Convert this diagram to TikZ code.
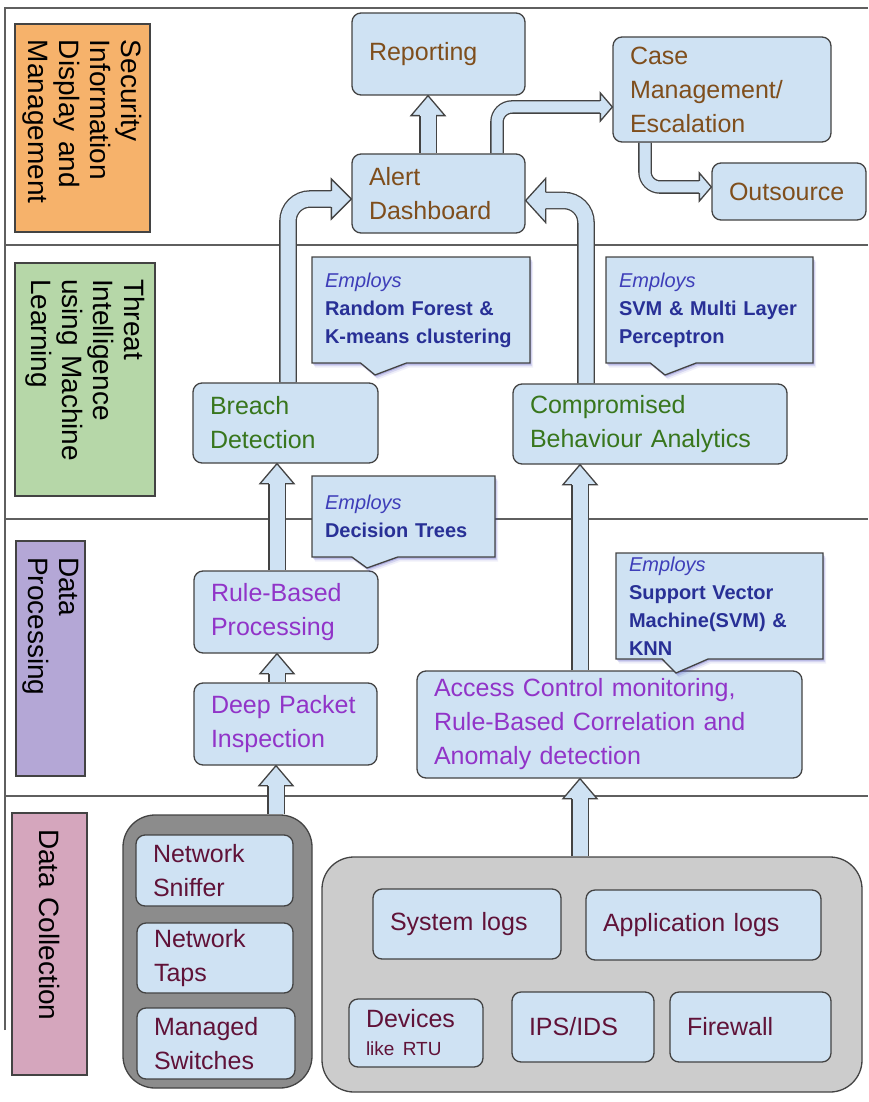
\documentclass[tikz,border=0pt]{standalone}
\usepackage{fontspec}
\setmainfont{Liberation Sans}
\usepackage{tikz}
\usetikzlibrary{shapes.callouts,shadows,backgrounds}

\definecolor{boxblue}{RGB}{207,226,243}
\definecolor{edge}{RGB}{67,67,67}
\definecolor{framegray}{RGB}{95,95,95}
\definecolor{siemorange}{RGB}{246,178,107}
\definecolor{mlgreen}{RGB}{182,215,168}
\definecolor{procpurple}{RGB}{180,167,214}
\definecolor{collpink}{RGB}{213,166,189}
\definecolor{darkgrp}{RGB}{140,140,140}
\definecolor{lightgrp}{RGB}{204,204,204}
\definecolor{txtbrown}{RGB}{127,78,28}
\definecolor{txtgreen}{RGB}{56,118,29}
\definecolor{txtpurple}{RGB}{145,52,200}
\definecolor{txtmaroon}{RGB}{96,18,56}
\definecolor{empblue}{RGB}{62,62,185}
\definecolor{algblue}{RGB}{40,48,150}

\newcommand{\boxfont}{\fontsize{25}{34}\selectfont}
\newcommand{\notefont}{\fontsize{20}{28}\selectfont}
\newcommand{\bandfont}{\fontsize{28}{31}\selectfont}
\newcommand{\employs}{{\mdseries\itshape\color{empblue}Employs}}

\tikzstyle{band}=[rectangle,draw=edge,line width=1.2pt,rotate=-90,
                  align=left,inner xsep=16pt,inner ysep=2pt,font=\bandfont]
\tikzstyle{box}=[rectangle,rounded corners=9pt,draw=edge,line width=1.3pt,
                 fill=boxblue,align=left,inner xsep=17pt,inner ysep=2pt,
                 font=\boxfont]
\tikzstyle{group}=[rectangle,rounded corners=32pt,draw=edge,line width=1.3pt]
\tikzstyle{note}=[rectangle callout,draw=edge,line width=1.3pt,fill=boxblue,
                  align=left,inner xsep=13pt,inner ysep=2pt,
                  font=\notefont\bfseries,text=algblue,
                  callout pointer width=46pt,
                  drop shadow={shadow xshift=3pt,shadow yshift=-4.5pt,
                               fill=empblue,opacity=0.08},
                  drop shadow={shadow xshift=2pt,shadow yshift=-3pt,
                               fill=empblue,opacity=0.15},
                  drop shadow={shadow xshift=1pt,shadow yshift=-1.5pt,
                               fill=empblue,opacity=0.25}]
\tikzstyle{shaft}=[draw=edge,line width=1.3pt,double=boxblue,
                   double distance=15pt,rounded corners=22pt]
\tikzset{
  wh/.style 2 args={minimum width=#1pt,minimum height=#2pt,text width=#1pt-34pt},
  nwh/.style 2 args={minimum width=#1pt,minimum height=#2pt,text width=#1pt-26pt},
  bwh/.style 2 args={minimum width=#1pt,minimum height=#2pt,text width=#1pt-32pt},
  pics/bhead/.style n args={3}{code={
    \fill[boxblue] (-#3-0.5,-#2+0.7) -- (-#3,-#2+0.7) -- (-#3,-#1) -- (0,0)
      -- (-#3,#1) -- (-#3,#2-0.7) -- (-#3-0.5,#2-0.7) -- cycle;
    \draw[edge,line width=1.3pt] (-#3,-#2) -- (-#3,-#1) -- (0,0)
      -- (-#3,#1) -- (-#3,#2);}}
}

\begin{document}
\begin{tikzpicture}[x=1pt,y=-1pt]
  \useasboundingbox (0,0) rectangle (868,1102);
  \newcommand{\blockup}[2]{%
    \draw[shaft] (#2 |- #1) -- ([yshift=-20pt]#2);
    \pic[rotate=90] at (#2) {bhead={17}{8.15}{20}};}

  % layer labels
  \node (siem) at (82.5,128) [band,fill=siemorange,bwh={208}{135}]
    {Security\\Information\\Display and\\Management};
  \node (til) at (85,379.5) [band,fill=mlgreen,bwh={233}{140}]
    {Threat\\Intelligence\\using Machine\\Learning};
  \node (dp) at (50.5,658.5) [band,fill=procpurple,bwh={235}{69}]
    {Data\\Processing};
  \node (dc) at (49.5,944) [band,fill=collpink,bwh={262}{75}]
    {Data Collection};

  % display and management
  \node (rep) at (438.5,54) [box,text=txtbrown,wh={173}{82}] {Reporting};
  \node (alert) at (438.5,193.5) [box,text=txtbrown,wh={173}{79}]
    {Alert\\Dashboard};
  \node (case) at (722,89.5) [box,text=txtbrown,wh={218}{105}]
    {Case\\Management/\\Escalation};
  \node (outs) at (789,191.5) [box,text=txtbrown,wh={154}{57}] {Outsource};

  % machine learning
  \node (breach) at (285.5,423) [box,text=txtgreen,wh={185}{80}]
    {Breach\\Detection};
  \node (cba) at (650,424) [box,text=txtgreen,wh={274}{80}]
    {Compromised\\Behaviour Analytics};
  \node (rfk) at (421,310) [note,nwh={218}{106},
    callout absolute pointer={(375,375)}]
    {\employs\\Random Forest \&\\K-means clustering};
  \node (mlp) at (709.5,310) [note,nwh={207}{106},
    callout absolute pointer={(665,375)}]
    {\employs\\SVM \& Multi Layer\\Perceptron};

  % processing
  \node (rbp) at (286,612) [box,text=txtpurple,wh={184}{82}]
    {Rule-Based\\Processing};
  \node (dpi) at (285.5,724) [box,text=txtpurple,wh={183}{82}]
    {Deep Packet\\Inspection};
  \node (acm) at (609.5,724.5) [box,text=txtpurple,wh={385}{107}]
    {Access Control monitoring,\\Rule-Based Correlation and\\Anomaly detection};
  \node (dtn) at (403.5,516.5) [note,nwh={183}{81},
    callout absolute pointer={(367,568)}]
    {\employs\\Decision Trees};
  \node (svk) at (719.5,606) [note,nwh={207}{106},
    callout absolute pointer={(676,673)}]
    {\employs\\Support Vector\\Machine(SVM) \&\\KNN};

  % collection
  \node (netgrp) at (217.5,951.5) [group,fill=darkgrp,
    minimum width=189pt,minimum height=273pt] {};
  \node (sniff) at (214.5,870.5) [box,text=txtmaroon,wh={157}{71}]
    {Network\\Sniffer};
  \node (taps) at (215,958) [box,text=txtmaroon,wh={156}{70}]
    {Network\\Taps};
  \node (msw) at (216,1043.5) [box,text=txtmaroon,wh={158}{71}]
    {Managed\\Switches};
  \node (loggrp) at (592,974.5) [group,fill=lightgrp,
    minimum width=540pt,minimum height=235pt] {};
  \node (syslog) at (467,924) [box,text=txtmaroon,wh={188}{70}] {System logs};
  \node (applog) at (703.5,925) [box,text=txtmaroon,wh={235}{70}]
    {Application logs};
  \node (dev) at (416,1033) [box,text=txtmaroon,wh={134}{68}]
    {Devices\\[-6pt]{\fontsize{19}{22}\selectfont like RTU}};
  \node (ips) at (583,1027) [box,text=txtmaroon,wh={142}{70}] {IPS/IDS};
  \node (fw) at (750.5,1027) [box,text=txtmaroon,wh={161}{70}] {Firewall};

  \begin{scope}[on background layer]
    \draw[framegray,line width=1.4pt] (5,1030) -- (5,8) -- (868,8);
    \foreach \y in {245,519,796}
      \draw[framegray,line width=1.4pt] (5,\y) -- (868,\y);

    \coordinate (t1) at ([xshift=-9pt]rbp.south);
    \blockup{dpi.north}{t1}
    \coordinate (t2) at ([xshift=-8.5pt]breach.south);
    \blockup{rbp.north}{t2}
    \coordinate (t5) at ([xshift=-10.5pt]rep.south);
    \blockup{alert.north}{t5}
    \coordinate (t8) at ([xshift=-70pt]cba.south);
    \blockup{acm.north}{t8}
    \coordinate (t9) at ([xshift=-9.5pt]dpi.south);
    \blockup{netgrp.north}{t9}
    \coordinate (t10) at ([xshift=-29.5pt]acm.south);
    \blockup{loggrp.north}{t10}

    \coordinate (t3) at ([yshift=-5.5pt]alert.west);
    \draw[shaft] ([xshift=2.5pt]breach.north) |- ([xshift=-20pt]t3);
    \pic at (t3) {bhead={20}{8.15}{20}};
    \coordinate (t4) at ([yshift=-7pt]alert.east);
    \draw[shaft] ([xshift=-64pt]cba.north) |- ([xshift=20pt]t4);
    \pic[rotate=180] at (t4) {bhead={22}{8.15}{20}};
    \coordinate (t6) at ([yshift=-17.5pt]case.west);
    \draw[shaft,double distance=11pt,rounded corners=15pt]
      ([xshift=58.5pt]alert.north) |- ([xshift=-12pt]t6);
    \pic at (t6) {bhead={14}{6.15}{12}};
    \coordinate (t7) at ([yshift=4.5pt]outs.west);
    \draw[shaft,double distance=11pt,rounded corners=15pt]
      ([xshift=-77pt]case.south) |- ([xshift=-12pt]t7);
    \pic at (t7) {bhead={14}{6.15}{12}};
  \end{scope}
\end{tikzpicture}
\end{document}
